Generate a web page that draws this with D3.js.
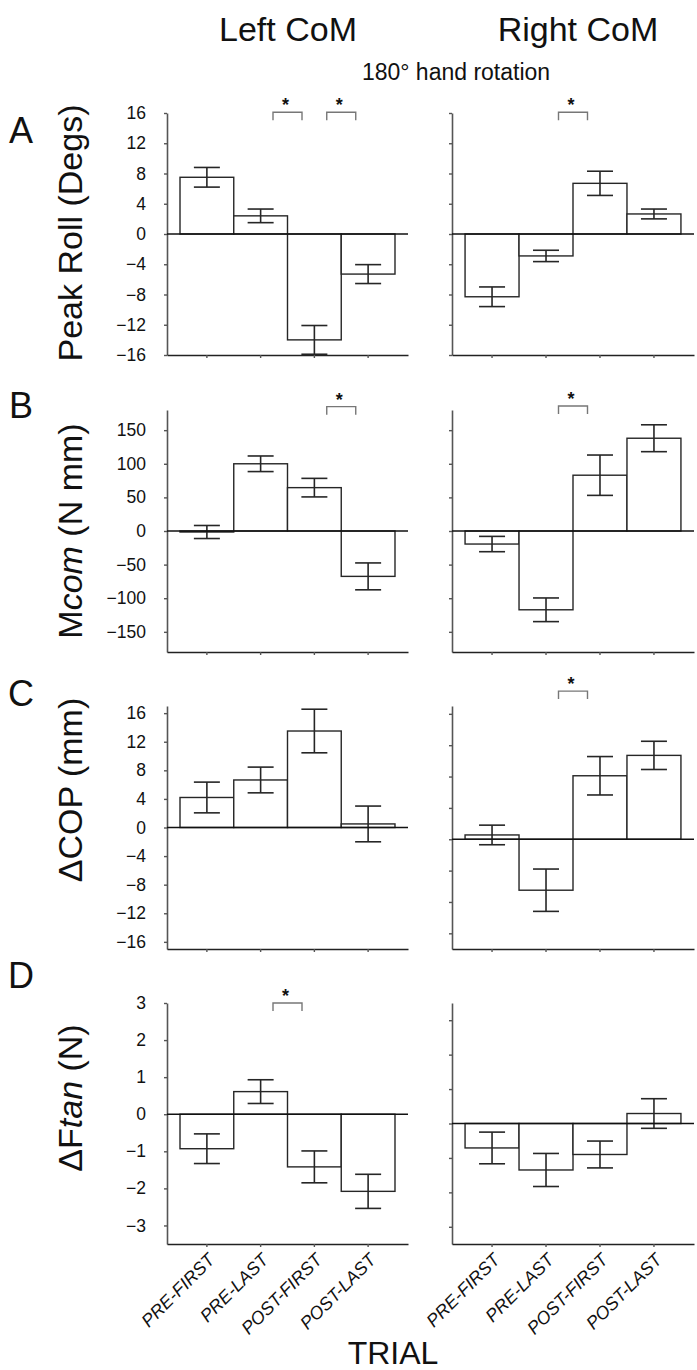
<!DOCTYPE html>
<html><head><meta charset="utf-8">
<script src="https://cdn.jsdelivr.net/npm/d3@7"></script>
<style>
body{margin:0;background:#fff}
text{font-family:"Liberation Sans",Arial,sans-serif;fill:#111}
</style></head>
<body>
<svg id="c" width="697" height="1370"></svg>
<script>
// ---------- data ----------
const categories = ["PRE-FIRST", "PRE-LAST", "POST-FIRST", "POST-LAST"];

const rollTicks = [-16, -12, -8, -4, 0, 4, 8, 12, 16];
const mcomTicks = [-150, -100, -50, 0, 50, 100, 150];
const copTicks = [-16, -12, -8, -4, 0, 4, 8, 12, 16];
const copRightTicks = [-12, -8, -4, 0, 4, 8, 12, 16];
const ftanTicks = [-3, -2, -1, 0, 1, 2, 3];

const peakRollLeft = [7.5, 2.4, -14.0, -5.3];
const peakRollLeftErr = [1.3, 0.9, 1.9, 1.25];
const peakRollRight = [-8.3, -2.9, 6.7, 2.65];
const peakRollRightErr = [1.3, 0.75, 1.6, 0.65];

const mcomLeft = [-1.5, 100, 64.5, -67.5];
const mcomLeftErr = [9.7, 11.6, 13.8, 20];
const mcomRight = [-19.4, -117.2, 83, 138];
const mcomRightErr = [11.4, 17.6, 30, 20];

const copLeft = [4.2, 6.65, 13.5, 0.5];
const copLeftErr = [2.15, 1.8, 3.05, 2.5];
const copRight = [0.55, -6.5, 8.1, 10.7];
const copRightErr = [1.25, 2.7, 2.45, 1.8];

const ftanLeft = [-0.93, 0.61, -1.42, -2.08];
const ftanLeftErr = [0.4, 0.32, 0.43, 0.46];
const ftanRight = [-0.71, -1.35, -0.9, 0.29];
const ftanRightErr = [0.46, 0.48, 0.39, 0.43];

// significance brackets: [bar before, bar after, bracket level in data units]
const sigRollLeft = [["PRE-LAST", "POST-FIRST", 16.1], ["POST-FIRST", "POST-LAST", 16.1]];
const sigRollRight = [["PRE-LAST", "POST-FIRST", 16.1]];
const sigMcomLeft = [["POST-FIRST", "POST-LAST", 185]];
const sigMcomRight = [["PRE-LAST", "POST-FIRST", 186]];
const sigCopLeft = [];
const sigCopRight = [["PRE-LAST", "POST-FIRST", 18.9]];
const sigFtanLeft = [["PRE-LAST", "POST-FIRST", 3.0]];
const sigFtanRight = [];

// ---------- layout ----------
const svg = d3.select("#c");
const cols = [{x0: 167, x1: 408, labels: true}, {x0: 452, x1: 694, labels: false}];
const rows = [
  {top: 113, bottom: 355, letter: "A", letterY: 143, labelY: 233},
  {top: 410, bottom: 652, letter: "B", letterY: 418, labelY: 531},
  {top: 706, bottom: 949, letter: "C", letterY: 706, labelY: 790},
  {top: 1003, bottom: 1244, letter: "D", letterY: 988, labelY: 1098}
];

const panels = [
  {row: 0, col: 0, dom: [-16, 16], ticks: rollTicks, v: peakRollLeft, e: peakRollLeftErr, sig: sigRollLeft},
  {row: 0, col: 1, dom: [-16, 16], ticks: rollTicks, v: peakRollRight, e: peakRollRightErr, sig: sigRollRight},
  {row: 1, col: 0, dom: [-180, 180], ticks: mcomTicks, v: mcomLeft, e: mcomLeftErr, sig: sigMcomLeft},
  {row: 1, col: 1, dom: [-180, 180], ticks: mcomTicks, v: mcomRight, e: mcomRightErr, sig: sigMcomRight},
  {row: 2, col: 0, dom: [-17, 17], ticks: copTicks, v: copLeft, e: copLeftErr, sig: sigCopLeft},
  {row: 2, col: 1, dom: [-14, 17], ticks: copRightTicks, v: copRight, e: copRightErr, sig: sigCopRight},
  {row: 3, col: 0, dom: [-3.5, 3], ticks: ftanTicks, v: ftanLeft, e: ftanLeftErr, sig: sigFtanLeft},
  {row: 3, col: 1, dom: [-3.5, 3.5], ticks: ftanTicks, v: ftanRight, e: ftanRightErr, sig: sigFtanRight}
];

panels.forEach(p => {
  const r = rows[p.row], c = cols[p.col];
  const y = d3.scaleLinear().domain(p.dom).range([r.bottom, r.top]);
  const x = d3.scaleBand().domain(categories).range([c.x0, c.x1]).paddingInner(0).paddingOuter(0.242);
  const g = svg.append("g");

  // bars
  const data = categories.map((k, i) => ({k, v: p.v[i], e: p.e[i]}));
  g.selectAll("rect.bar").data(data).join("rect")
    .attr("x", d => x(d.k)).attr("width", x.bandwidth())
    .attr("y", d => Math.min(y(d.v), y(0)))
    .attr("height", d => Math.abs(y(d.v) - y(0)))
    .attr("fill", "#fff").attr("stroke", "#262626").attr("stroke-width", 1.4);

  // error bars
  const eg = g.selectAll("g.err").data(data).join("g").attr("stroke", "#262626").attr("stroke-width", 1.6);
  const cx = d => x(d.k) + x.bandwidth() / 2;
  eg.append("line").attr("x1", cx).attr("x2", cx).attr("y1", d => y(d.v + d.e)).attr("y2", d => y(d.v - d.e));
  eg.append("line").attr("x1", d => cx(d) - 13).attr("x2", d => cx(d) + 13).attr("y1", d => y(d.v + d.e)).attr("y2", d => y(d.v + d.e));
  eg.append("line").attr("x1", d => cx(d) - 13).attr("x2", d => cx(d) + 13).attr("y1", d => y(d.v - d.e)).attr("y2", d => y(d.v - d.e));

  // y axis
  const ya = d3.axisLeft(y).tickValues(p.ticks).tickSize(3).tickSizeOuter(0).tickPadding(18)
    .tickFormat(d3.format("d"));
  if (!c.labels) ya.tickFormat("");
  const yg = g.append("g").attr("transform", `translate(${c.x0},0)`).call(ya);
  yg.select(".domain").attr("stroke", "#555").attr("stroke-width", 1.6);
  yg.selectAll(".tick line").attr("stroke", "#555").attr("stroke-width", 1.4);
  yg.selectAll(".tick text").attr("font-size", 17.5).attr("fill", "#111").attr("font-family", "Liberation Sans, Arial, sans-serif");

  // x axis
  const xa = d3.axisBottom(x).tickSize(3).tickSizeOuter(0);
  if (!(p.row === 3)) xa.tickFormat("");
  const xg = g.append("g").attr("transform", `translate(0,${r.bottom})`).call(xa);
  xg.select(".domain").attr("stroke", "#222").attr("stroke-width", 1.6);
  xg.selectAll(".tick line").attr("stroke", "#555").attr("stroke-width", 1.4);
  if (p.row === 3) {
    xg.selectAll(".tick text")
      .attr("font-size", 18).attr("font-style", "italic").attr("fill", "#111")
      .attr("font-family", "Liberation Sans, Arial, sans-serif")
      .attr("text-anchor", "end").attr("dy", null).attr("y", null)
      .attr("transform", "translate(9,17) rotate(-45)");
  }

  // zero line
  g.append("line").attr("x1", c.x0).attr("x2", c.x1).attr("y1", y(0)).attr("y2", y(0))
    .attr("stroke", "#111").attr("stroke-width", 1.4);

  // significance brackets
  p.sig.forEach(s => {
    const bx = x(s[1]);
    const by = y(s[2]);
    g.append("path")
      .attr("d", `M${bx - 14.5},${by + 8}V${by}H${bx + 14.5}V${by + 8}`)
      .attr("fill", "none").attr("stroke", "#777").attr("stroke-width", 1.4);
    g.append("text").attr("x", bx - 2).attr("y", by - 1).attr("text-anchor", "middle")
      .attr("font-size", 18).attr("font-weight", "bold").text("*");
  });
});

// row letters and y labels
const yLabels = [
  [{t: "Peak Roll (Degs)"}],
  [{t: "M"}, {t: "com", i: true}, {t: " (N mm)"}],
  [{t: "\u0394COP (mm)"}],
  [{t: "\u0394F"}, {t: "tan", i: true}, {t: " (N)"}]
];
rows.forEach((r, i) => {
  svg.append("text").attr("x", 21).attr("y", r.letterY).attr("text-anchor", "middle")
    .attr("font-size", 36).text(r.letter);
  const t = svg.append("text").attr("transform", `translate(82,${r.labelY}) rotate(-90)`)
    .attr("text-anchor", "middle").attr("font-size", 34);
  yLabels[i].forEach(s => t.append("tspan").attr("font-style", s.i ? "italic" : null).text(s.t));
});

// titles
svg.append("text").attr("x", 288).attr("y", 41).attr("text-anchor", "middle").attr("font-size", 34).text("Left CoM");
svg.append("text").attr("x", 578).attr("y", 41).attr("text-anchor", "middle").attr("font-size", 34).text("Right CoM");
svg.append("text").attr("x", 456).attr("y", 80).attr("text-anchor", "middle").attr("font-size", 23).text("180\u00B0 hand rotation");
svg.append("text").attr("x", 393).attr("y", 1364).attr("text-anchor", "middle").attr("font-size", 32).text("TRIAL");
</script>
</body></html>
